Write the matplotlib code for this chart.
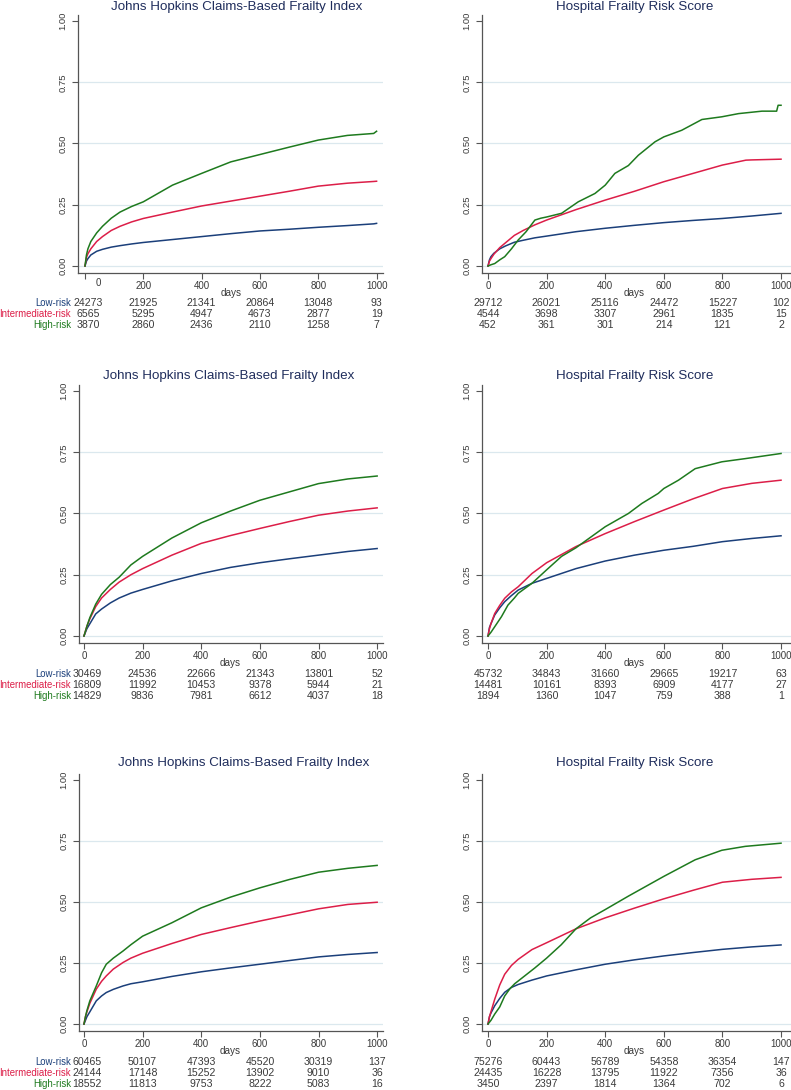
import matplotlib
matplotlib.use("Agg")
import matplotlib.pyplot as plt
from matplotlib.transforms import blended_transform_factory, offset_copy

plt.rcParams['font.family'] = ['Liberation Sans', 'DejaVu Sans']

# ---------------- data ----------------
groups = ["Low-risk", "Intermediate-risk", "High-risk"]
titles = ["Johns Hopkins Claims-Based Frailty Index", "Hospital Frailty Risk Score"]
xticks = [0, 200, 400, 600, 800, 1000]
yticks = [0.0, 0.25, 0.5, 0.75, 1.0]
ytick_labels = ["0.00", "0.25", "0.50", "0.75", "1.00"]

# Panel A (row 1, JH-CFI)
a_days = [0, 5, 10, 20, 40, 60, 90, 120, 160, 200, 300, 400, 500, 600, 700, 800, 900, 990, 1000]
a_low = [0, 0.02, 0.03, 0.045, 0.06, 0.068, 0.077, 0.083, 0.09, 0.096, 0.108, 0.12, 0.132, 0.143, 0.15, 0.158, 0.165, 0.172, 0.174]
a_int = [0, 0.035, 0.05, 0.07, 0.10, 0.12, 0.145, 0.162, 0.18, 0.194, 0.22, 0.245, 0.265, 0.285, 0.305, 0.326, 0.338, 0.345, 0.346]
a_high = [0, 0.045, 0.07, 0.10, 0.135, 0.162, 0.195, 0.22, 0.243, 0.262, 0.33, 0.378, 0.425, 0.455, 0.485, 0.514, 0.533, 0.541, 0.55]

# Panel B (row 1, HFRS)
b_days = [0, 5, 10, 20, 40, 60, 90, 120, 160, 200, 300, 400, 500, 600, 700, 800, 880, 900, 1000]
b_low = [0, 0.025, 0.038, 0.052, 0.07, 0.082, 0.097, 0.105, 0.115, 0.122, 0.14, 0.154, 0.166, 0.177, 0.186, 0.194, 0.202, 0.204, 0.215]
b_int = [0, 0.02, 0.03, 0.048, 0.075, 0.095, 0.125, 0.145, 0.168, 0.1875, 0.23, 0.269, 0.305, 0.344, 0.378, 0.412, 0.432, 0.433, 0.436]
b_high_days = [0, 10, 23, 40, 57, 80, 103, 130, 160, 180, 200, 251, 308, 365, 400, 433, 479, 513, 570, 600, 661, 730, 798, 855, 935, 985, 990, 1000]
b_high = [0, 0.005, 0.01, 0.025, 0.038, 0.07, 0.106, 0.14, 0.1875, 0.195, 0.2, 0.215, 0.262, 0.296, 0.33, 0.378, 0.41, 0.452, 0.507, 0.527, 0.554, 0.598, 0.609, 0.622, 0.632, 0.632, 0.656, 0.656]

# Panel C (row 2, JH-CFI)
c_days = [0, 5, 10, 20, 40, 60, 90, 120, 160, 200, 300, 400, 500, 600, 700, 800, 900, 1000]
c_low = [0, 0.015, 0.03, 0.05, 0.09, 0.11, 0.135, 0.155, 0.175, 0.19, 0.225, 0.255, 0.28, 0.299, 0.315, 0.33, 0.345, 0.357]
c_int = [0, 0.02, 0.04, 0.07, 0.12, 0.155, 0.19, 0.22, 0.25, 0.275, 0.33, 0.378, 0.41, 0.439, 0.467, 0.493, 0.51, 0.523]
c_high = [0, 0.02, 0.04, 0.075, 0.13, 0.17, 0.21, 0.24, 0.29, 0.325, 0.40, 0.462, 0.51, 0.554, 0.588, 0.622, 0.641, 0.653]

# Panel D (row 2, HFRS)
d_days = [0, 5, 10, 23, 40, 57, 80, 103, 150, 200, 300, 400, 500, 600, 700, 800, 900, 1000]
d_low = [0, 0.035, 0.05, 0.086, 0.115, 0.14, 0.165, 0.1875, 0.215, 0.235, 0.275, 0.306, 0.33, 0.35, 0.366, 0.385, 0.398, 0.409]
d_int = [0, 0.03, 0.05, 0.092, 0.125, 0.154, 0.18, 0.201, 0.255, 0.299, 0.365, 0.418, 0.467, 0.514, 0.56, 0.602, 0.623, 0.636]
d_high_days = [0, 10, 23, 46, 68, 90, 103, 150, 200, 251, 300, 400, 479, 525, 581, 600, 650, 707, 798, 878, 1000]
d_high = [0, 0.015, 0.038, 0.079, 0.126, 0.155, 0.174, 0.215, 0.27, 0.325, 0.36, 0.446, 0.5, 0.541, 0.582, 0.602, 0.636, 0.683, 0.711, 0.724, 0.745]

# Panel E (row 3, JH-CFI)
e_days = [0, 5, 10, 20, 42, 60, 76, 100, 133, 160, 200, 300, 400, 500, 600, 700, 800, 900, 1000]
e_low = [0, 0.015, 0.03, 0.05, 0.095, 0.115, 0.129, 0.142, 0.156, 0.165, 0.173, 0.195, 0.214, 0.23, 0.245, 0.26, 0.275, 0.285, 0.293]
e_int = [0, 0.03, 0.05, 0.085, 0.143, 0.175, 0.197, 0.225, 0.252, 0.27, 0.29, 0.33, 0.367, 0.395, 0.422, 0.447, 0.472, 0.49, 0.499]
e_high = [0, 0.03, 0.055, 0.095, 0.156, 0.21, 0.245, 0.27, 0.299, 0.325, 0.36, 0.415, 0.476, 0.52, 0.558, 0.592, 0.622, 0.638, 0.65]

# Panel F (row 3, HFRS)
f_days = [0, 5, 10, 23, 40, 57, 80, 103, 150, 200, 300, 400, 500, 600, 700, 800, 900, 1000]
f_low = [0, 0.03, 0.045, 0.075, 0.105, 0.13, 0.15, 0.162, 0.18, 0.197, 0.222, 0.245, 0.263, 0.279, 0.293, 0.306, 0.316, 0.324]
f_int = [0, 0.03, 0.05, 0.102, 0.16, 0.204, 0.24, 0.265, 0.305, 0.333, 0.39, 0.435, 0.475, 0.513, 0.548, 0.581, 0.593, 0.601]
f_high_days = [0, 10, 23, 40, 57, 75, 91, 125, 160, 200, 250, 300, 350, 400, 479, 600, 707, 798, 878, 1000]
f_high = [0, 0.015, 0.041, 0.07, 0.115, 0.145, 0.165, 0.197, 0.23, 0.27, 0.325, 0.39, 0.435, 0.469, 0.524, 0.605, 0.673, 0.712, 0.728, 0.741]

# Numbers at risk
a_risk = [[24273, 21925, 21341, 20864, 13048, 93], [6565, 5295, 4947, 4673, 2877, 19], [3870, 2860, 2436, 2110, 1258, 7]]
b_risk = [[29712, 26021, 25116, 24472, 15227, 102], [4544, 3698, 3307, 2961, 1835, 15], [452, 361, 301, 214, 121, 2]]
c_risk = [[30469, 24536, 22666, 21343, 13801, 52], [16809, 11992, 10453, 9378, 5944, 21], [14829, 9836, 7981, 6612, 4037, 18]]
d_risk = [[45732, 34843, 31660, 29665, 19217, 63], [14481, 10161, 8393, 6909, 4177, 27], [1894, 1360, 1047, 759, 388, 1]]
e_risk = [[60465, 50107, 47393, 45520, 30319, 137], [24144, 17148, 15252, 13902, 9010, 36], [18552, 11813, 9753, 8222, 5083, 16]]
f_risk = [[75276, 60443, 56789, 54358, 36354, 147], [24435, 16228, 13795, 11922, 7356, 36], [3450, 2397, 1814, 1364, 702, 6]]

# ---------------- style ----------------
W, H = 791, 1090
colors = ["#1b3f7a", "#dc1e48", "#1e7a1e"]
title_color = "#1f2d5c"
grid_color = "#dbe8ee"
text_color = "#3a3a3a"

fig = plt.figure(figsize=(W / 100, H / 100), dpi=100)


def px_axes(l, r, t, b):
    return fig.add_axes([l / W, 1 - b / H, (r - l) / W, (b - t) / H])


panels = [
    dict(box=(78, 383, 15, 273), xlim=(-24, 1022), title=titles[0], txy=(237, 7),
         lines=[(a_days, a_low), (a_days, a_int), (a_days, a_high)], risk=a_risk,
         labels=True, rows=(293, 303, 314, 325), zero_shift=True),
    dict(box=(482, 791, 15, 273), xlim=(-20.5, 1034), title=titles[1], txy=(635, 7),
         lines=[(b_days, b_low), (b_days, b_int), (b_high_days, b_high)], risk=b_risk,
         labels=False, rows=(293, 303, 314, 325), zero_shift=False),
    dict(box=(79, 383, 385, 643), xlim=(-17, 1020), title=titles[0], txy=(229, 376),
         lines=[(c_days, c_low), (c_days, c_int), (c_days, c_high)], risk=c_risk,
         labels=True, rows=(663, 674, 685, 696), zero_shift=False),
    dict(box=(482, 791, 385, 643), xlim=(-20.5, 1034), title=titles[1], txy=(635, 376),
         lines=[(d_days, d_low), (d_days, d_int), (d_high_days, d_high)], risk=d_risk,
         labels=False, rows=(663, 674, 685, 696), zero_shift=False),
    dict(box=(79, 383, 774, 1031), xlim=(-17, 1020), title=titles[0], txy=(244, 763),
         lines=[(e_days, e_low), (e_days, e_int), (e_days, e_high)], risk=e_risk,
         labels=True, rows=(1051, 1062, 1073, 1084), zero_shift=False),
    dict(box=(482, 791, 774, 1031), xlim=(-20.5, 1034), title=titles[1], txy=(635, 763),
         lines=[(f_days, f_low), (f_days, f_int), (f_high_days, f_high)], risk=f_risk,
         labels=False, rows=(1051, 1062, 1073, 1084), zero_shift=False),
]

for p in panels:
    l, r, t, b = p["box"]
    ax = px_axes(l, r, t, b)
    ax.set_xlim(*p["xlim"])
    ax.set_ylim(-0.0286, 1.0245)
    for s in ["top", "right"]:
        ax.spines[s].set_visible(False)
    for s in ["left", "bottom"]:
        ax.spines[s].set_color("#555555")
        ax.spines[s].set_linewidth(0.9)
    for gy in yticks[:-1]:
        ax.axhline(gy, color=grid_color, lw=0.9, zorder=0)
    for (x, y), c in zip(p["lines"], colors):
        ax.plot(x, y, color=c, lw=1.1, zorder=3)
    ax.set_yticks(yticks)
    ax.set_yticklabels(ytick_labels, rotation=90, va="center", fontsize=6.8, color=text_color)
    ax.set_xticks(xticks)
    if p["zero_shift"]:
        ax.set_xticklabels([""] + [str(v) for v in xticks[1:]], fontsize=7.0, color=text_color)
        ax.text(45, -0.048, "0", transform=ax.transData, ha="center", va="top",
                fontsize=7.0, color=text_color)
    else:
        ax.set_xticklabels([str(v) for v in xticks], fontsize=7.0, color=text_color)
    ax.tick_params(axis="both", length=4, width=0.8, color="#555555", pad=2)
    ax.tick_params(axis="y", pad=3.5)
    ax.patch.set_alpha(0)

    fig.text(p["txy"][0] / W, 1 - p["txy"][1] / H, p["title"], ha="center", va="center",
             fontsize=9.6, color=title_color)

    tr = blended_transform_factory(ax.transData, fig.transFigure)
    dy = p["rows"]
    ax.text(500, 1 - dy[0] / H, "days", transform=tr, ha="center", va="center",
            fontsize=7.2, color=text_color, clip_on=False)
    for gi, row in enumerate(p["risk"]):
        yy = 1 - dy[gi + 1] / H
        if p["labels"]:
            fig.text(71 / W, yy, groups[gi], ha="right", va="center", fontsize=6.9,
                     color=colors[gi])
        for k, (xv, n) in enumerate(zip(xticks, row)):
            t_ = tr
            if p["labels"] and k == 0:
                t_ = offset_copy(tr, fig=fig, x=3, y=0, units="dots")
            ax.text(xv, yy, str(n), transform=t_, ha="center", va="center",
                    fontsize=7.6, color=text_color, clip_on=False)

fig.savefig("out.png", dpi=100, facecolor="white")
